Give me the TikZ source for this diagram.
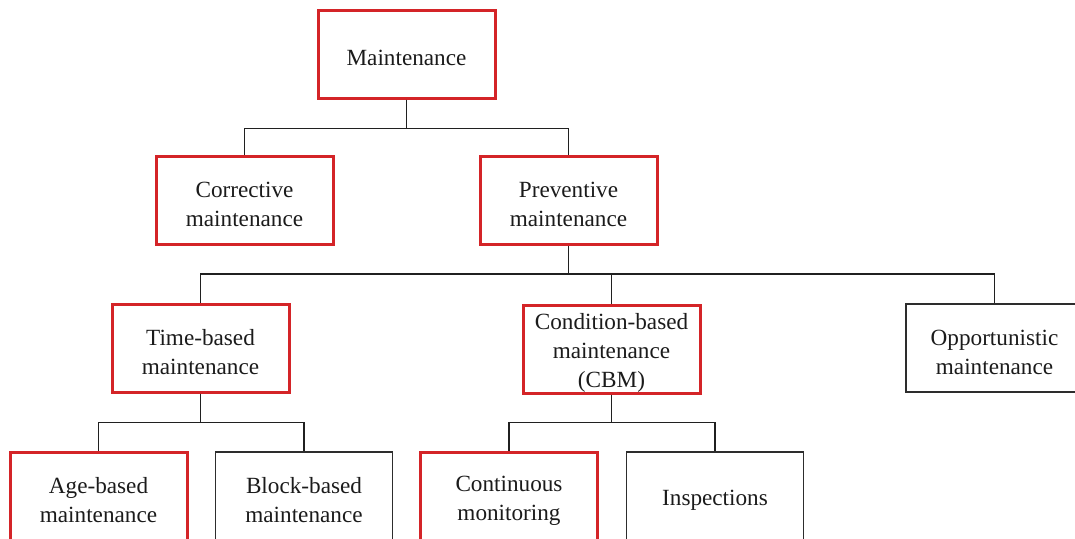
\documentclass[tikz,border=0pt]{standalone}
\usepackage{fontspec}
\setmainfont{Liberation Serif}
\definecolor{MaintRed}{RGB}{212,36,40}
\definecolor{MaintGrey}{RGB}{45,45,45}
\newcommand\boxstrut{\rule{0pt}{12pt}}
\begin{document}
\begin{tikzpicture}[x=0.5pt, y=-0.5pt,
    box/.style={draw, minimum width=88.5pt, minimum height=44pt, align=center, inner sep=0pt,
                font=\fontsize{11.6}{14.5}\selectfont, text=MaintGrey!60!black},
    redbox/.style={box, draw=MaintRed, line width=1.5pt},
    blackbox/.style={box, draw=MaintGrey, line width=0.75pt},
    link/.style={draw=MaintGrey!70!black, line width=0.8pt}]
    \useasboundingbox (0,0) rectangle (1075,538);
    % Top levels
    \node[redbox] (main) at (406.5,54) {\boxstrut Maintenance};
    \node[redbox] (corr) at (244.5,200.5) {\boxstrut Corrective\\maintenance};
    \node[redbox] (prev) at (568.5,200.5) {\boxstrut Preventive\\maintenance};
    % Preventive branches
    \node[redbox] (time) at (200.5,348) {\boxstrut Time-based\\maintenance};
    \node[redbox] (cbm) at (611.5,349) {\boxstrut Condition-based\\maintenance\\(CBM)};
    \node[blackbox] (opp) at (994.5,348) {\boxstrut Opportunistic\\maintenance};
    % Bottom row
    \node[redbox] (age) at (98.5,496) {\boxstrut Age-based\\maintenance};
    \node[blackbox] (block) at (304,496) {\boxstrut Block-based\\maintenance};
    \node[redbox] (cont) at (509,496) {\boxstrut Continuous\\monitoring};
    \node[blackbox] (insp) at (715,496) {\boxstrut Inspections};
    % Tree connectors
    \draw[link] (main.south) -- ++(0,29) -| (corr.north);
    \draw[link] (main.south) -- ++(0,29) -| (prev.north);
    \draw[link] (prev.south) -- ++(0,28) -| (time.north);
    \draw[link] (prev.south) -- ++(0,28) -| (cbm.north);
    \draw[link] (prev.south) -- ++(0,28) -| (opp.north);
    \draw[link] (time.south) -- ++(0,29) -| (age.north);
    \draw[link] (time.south) -- ++(0,29) -| (block.north);
    \draw[link] (cbm.south) -- ++(0,28) -| (cont.north);
    \draw[link] (cbm.south) -- ++(0,28) -| (insp.north);
\end{tikzpicture}
\end{document}
